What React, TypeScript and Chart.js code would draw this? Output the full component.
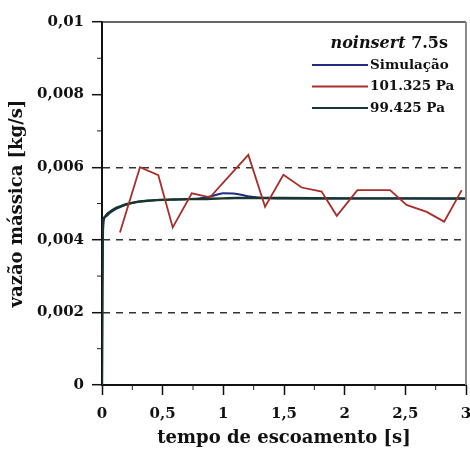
import React, { useEffect, useRef } from "react";
import { Chart, registerables } from "chart.js";

Chart.register(...registerables);

// ---- data ----
const simTime = [0, 0.003, 0.006, 0.01, 0.02, 0.04, 0.07, 0.1, 0.15, 0.2, 0.3, 0.4, 0.5, 0.6, 0.7, 0.8, 0.9, 1.0, 1.1, 1.2, 1.3, 1.5, 2.0, 2.5, 3.0];
const simValues = [0, 0.0025, 0.0038, 0.0044, 0.0046, 0.00466, 0.00475, 0.00482, 0.0049, 0.00497, 0.00505, 0.00508, 0.0051, 0.00511, 0.00512, 0.00514, 0.0052, 0.00528, 0.00527, 0.0052, 0.00516, 0.00514, 0.00514, 0.00514, 0.00513];

const exp101Time = [0.148, 0.313, 0.464, 0.583, 0.74, 0.89, 1.206, 1.344, 1.495, 1.646, 1.81, 1.935, 2.105, 2.374, 2.51, 2.676, 2.82, 2.965];
const exp101Values = [0.0042, 0.006, 0.00578, 0.00434, 0.00528, 0.00517, 0.00634, 0.00491, 0.00579, 0.00544, 0.00533, 0.00466, 0.00537, 0.00537, 0.00496, 0.00477, 0.0045, 0.00537];

const exp99Time = [0, 0.003, 0.006, 0.01, 0.02, 0.04, 0.07, 0.1, 0.15, 0.2, 0.3, 0.4, 0.5, 0.6, 0.7, 0.8, 0.9, 1.0, 1.1, 1.2, 1.3, 1.5, 2.0, 2.5, 3.0];
const exp99Values = [0, 0.0026, 0.0039, 0.0045, 0.00462, 0.0047, 0.00478, 0.00485, 0.00492, 0.00498, 0.00505, 0.00508, 0.0051, 0.00511, 0.00512, 0.00512, 0.00513, 0.00514, 0.00515, 0.00515, 0.00515, 0.00515, 0.00514, 0.00514, 0.00514];

const seriesLabels = ["Simulação", "101.325 Pa", "99.425 Pa"];
const seriesColors = ["#1f2a80", "#a82e2a", "#17372c"];
const legendTitle = ["noinsert", "7.5s"];
const xTitle = "tempo de escoamento [s]";
const yTitle = "vazão mássica [kg/s]";

const FONT = "'DejaVu Serif', 'Liberation Serif', serif";

const toPoints = (xs: number[], ys: number[]) => xs.map((x, i) => ({ x, y: ys[i] }));

const decorPlugin = {
  id: "decor",
  afterDatasetsDraw(chart: any) {
    const { ctx, chartArea, scales } = chart;
    const { left, right, top, bottom } = chartArea;
    ctx.save();
    // frame (top + right)
    ctx.lineWidth = 1.5;
    ctx.strokeStyle = "#333";
    ctx.beginPath();
    ctx.moveTo(left, top);
    ctx.lineTo(right, top);
    ctx.stroke();
    ctx.strokeStyle = "#8a8a8a";
    ctx.lineWidth = 2;
    ctx.beginPath();
    ctx.moveTo(right, top);
    ctx.lineTo(right, bottom);
    ctx.stroke();

    // minor ticks
    ctx.strokeStyle = "#222";
    ctx.lineWidth = 1;
    const ys = scales.y;
    ys.ticks.forEach((t: any) => {
      const k = Math.round(t.value * 1000);
      if (k % 2 !== 0) {
        const p = ys.getPixelForValue(t.value);
        ctx.beginPath();
        ctx.moveTo(left - 5, p);
        ctx.lineTo(left, p);
        ctx.stroke();
      }
    });
    const xs = scales.x;
    xs.ticks.forEach((t: any) => {
      const q = Math.round(t.value * 4);
      if (q % 2 !== 0) {
        const p = xs.getPixelForValue(t.value);
        ctx.beginPath();
        ctx.moveTo(p, bottom);
        ctx.lineTo(p, bottom + 5);
        ctx.stroke();
      }
    });

    // legend
    ctx.fillStyle = "#111";
    ctx.textBaseline = "alphabetic";
    ctx.textAlign = "left";
    ctx.font = `italic bold 16px ${FONT}`;
    const w1 = ctx.measureText(legendTitle[0] + " ").width;
    ctx.font = `bold 16px ${FONT}`;
    const w2 = ctx.measureText(legendTitle[1]).width;
    const tx = right - 18 - w1 - w2;
    ctx.font = `italic bold 16px ${FONT}`;
    ctx.fillText(legendTitle[0] + " ", tx, top + 26);
    ctx.font = `bold 16px ${FONT}`;
    ctx.fillText(legendTitle[1], tx + w1, top + 26);

    ctx.font = `bold 13.5px ${FONT}`;
    ctx.textBaseline = "middle";
    chart.data.datasets.forEach((ds: any, i: number) => {
      const y = top + 43 + i * 21.5;
      ctx.strokeStyle = ds.borderColor;
      ctx.lineWidth = 2;
      ctx.beginPath();
      ctx.moveTo(right - 154, y);
      ctx.lineTo(right - 98, y);
      ctx.stroke();
      ctx.fillStyle = "#111";
      ctx.fillText(ds.label, right - 96, y);
    });
    ctx.restore();
  },
};

export default function App() {
  const ref = useRef<HTMLCanvasElement | null>(null);
  useEffect(() => {
    if (!ref.current) return;
    const chart = new Chart(ref.current, {
      type: "line",
      data: {
        datasets: [
          {
            label: seriesLabels[0],
            data: toPoints(simTime, simValues),
            borderColor: seriesColors[0],
            borderWidth: 2,
            pointRadius: 0,
            cubicInterpolationMode: "monotone",
            order: 2,
          },
          {
            label: seriesLabels[1],
            data: toPoints(exp101Time, exp101Values),
            borderColor: seriesColors[1],
            borderWidth: 1.8,
            pointRadius: 0,
            tension: 0,
            order: 0,
          },
          {
            label: seriesLabels[2],
            data: toPoints(exp99Time, exp99Values),
            borderColor: seriesColors[2],
            borderWidth: 2.4,
            pointRadius: 0,
            cubicInterpolationMode: "monotone",
            order: 1,
          },
        ],
      } as any,
      options: {
        animation: false,
        responsive: true,
        maintainAspectRatio: false,
        layout: { padding: { left: 0, right: 4, top: 22, bottom: 0 } },
        plugins: {
          legend: { display: false },
          tooltip: { enabled: false },
          title: { display: false },
        },
        scales: {
          x: {
            type: "linear",
            min: 0,
            max: 3,
            afterFit: (s: any) => {
              s.height = 70;
              s.paddingRight = 0;
              s.paddingLeft = 0;
            },
            ticks: {
              stepSize: 0.25,
              autoSkip: false,
              maxRotation: 0,
              padding: 10,
              color: "#111",
              font: { family: FONT, size: 15, weight: "bold" },
              callback: (v: any) => {
                const q = Math.round(Number(v) * 4);
                if (q % 2 !== 0) return "";
                return String(q / 4).replace(".", ",");
              },
            },
            grid: {
              drawOnChartArea: false,
              tickLength: 10,
              tickWidth: 1.5,
              tickColor: (c: any) => {
                const q = Math.round(Number(c.tick?.value ?? 0) * 4);
                return q % 2 === 0 ? "#111" : "transparent";
              },
            },
            border: { display: true, color: "#111", width: 2 },
            title: {
              display: true,
              text: xTitle,
              color: "#111",
              font: { family: FONT, size: 18, weight: "bold" },
              padding: { top: 0, bottom: 6 },
            },
          },
          y: {
            type: "linear",
            min: 0,
            max: 0.01,
            afterFit: (s: any) => {
              s.width = 102;
            },
            ticks: {
              stepSize: 0.001,
              autoSkip: false,
              padding: 8,
              color: "#111",
              font: { family: FONT, size: 15, weight: "bold" },
              callback: (v: any) => {
                const k = Math.round(Number(v) * 1000);
                if (k === 0) return "0";
                if (k % 2 !== 0) return "";
                if (k === 10) return "0,01";
                return "0,00" + k;
              },
            },
            grid: {
              drawOnChartArea: true,
              lineWidth: 1.4,
              color: (c: any) => {
                const k = Math.round(Number(c.tick?.value ?? 0) * 1000);
                return k === 2 || k === 4 || k === 6 ? "#333" : "transparent";
              },
              tickLength: 10,
              tickWidth: 1.5,
              tickColor: (c: any) => {
                const k = Math.round(Number(c.tick?.value ?? 0) * 1000);
                return k % 2 === 0 ? "#111" : "transparent";
              },
            },
            border: { display: true, color: "#111", width: 2, dash: [7, 6] },
            title: {
              display: true,
              text: yTitle,
              color: "#111",
              font: { family: FONT, size: 18, weight: "bold" },
              padding: { top: 7, bottom: 0 },
            },
          },
        },
      } as any,
      plugins: [decorPlugin],
    });
    return () => chart.destroy();
  }, []);

  return (
    <div style={{ position: "absolute", left: 0, top: 0, width: 470, height: 455, background: "#fff" }}>
      <canvas ref={ref} />
    </div>
  );
}
